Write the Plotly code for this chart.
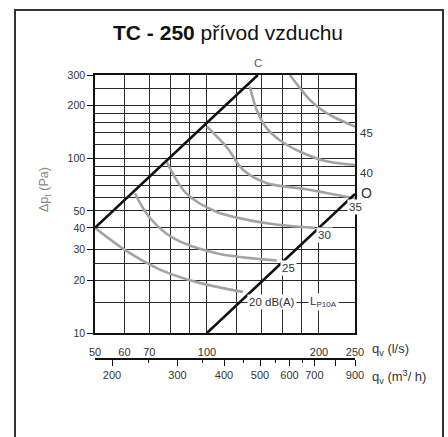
import math
import plotly.graph_objects as go

# ---------------- data ----------------
# axis grid / tick values
q_ls_labeled = [50, 60, 70, 100, 200, 250]
q_ls_minor = [80, 90, 120, 140, 160, 180]
dp_labeled = [10, 20, 30, 40, 50, 100, 200, 300]
dp_minor = [15, 25, 60, 70, 80, 90, 120, 140, 160, 180, 250]
q_m3h_major = [200, 300, 400, 500, 600, 700, 800, 900]
q_m3h_major_text = ["200", "300", "400", "500", "600", "700", "", "900"]
q_m3h_minor = [250, 350, 450, 550, 650]

# characteristic lines
line_C_q = [50, 137]
line_C_dp = [40, 300]
line_O_q = [100, 250]
line_O_dp = [10, 62.5]

# noise level curves (dB(A))
n20_q = [50, 60, 75, 96, 125]
n20_dp = [40, 30, 23, 19.3, 17.2]
n25_q = [64, 70, 81, 106, 154]
n25_dp = [63, 46, 35, 28.6, 26]
n30_q = [78, 88, 106, 145, 195]
n30_dp = [95, 63, 49.5, 42.5, 40]
n35_q = [100, 113, 125, 145, 185, 250]
n35_dp = [152, 116, 86, 72, 66.5, 59]
n40_q = [130.5, 136, 144.7, 157, 178, 208, 250]
n40_dp = [257, 189, 149, 127, 109, 96.5, 91.5]
n45_q = [167, 178, 189, 201, 218.5, 250]
n45_dp = [300, 252, 216, 193, 173, 152]

# label texts and anchors (q in l/s, dp in Pa)
label_text = ["C", "45", "40", "O", "35", "30", "25", "20 dB(A)", "L<sub>P10A</sub>"]
label_q = [137, 268, 268, 269, 251.5, 207.6, 166, 149.5, 206.3]
label_dp = [350, 140, 82, 63.4, 52.7, 36.4, 23.5, 15, 15]

FONT = "Liberation Sans, Arial, Helvetica, sans-serif"
GRAY = "#a3a3a3"

Q_RANGE = [50, 250]
DP_RANGE = [10, 300]

fig = go.Figure()

for q, dp in [(n20_q, n20_dp), (n25_q, n25_dp), (n30_q, n30_dp),
              (n35_q, n35_dp), (n40_q, n40_dp), (n45_q, n45_dp)]:
    fig.add_trace(go.Scatter(x=q, y=dp, mode="lines",
                             line=dict(color=GRAY, width=2.6, shape="spline", smoothing=0.9),
                             hoverinfo="skip", showlegend=False, cliponaxis=True))

for q, dp in [(line_C_q, line_C_dp), (line_O_q, line_O_dp)]:
    fig.add_trace(go.Scatter(x=q, y=dp, mode="lines", line=dict(color="#111111", width=2.6),
                             hoverinfo="skip", showlegend=False))

# secondary axis carrier (m3/h)
fig.add_trace(go.Scatter(x=[q_m3h_major[0], q_m3h_major[-1]], y=[dp_labeled[0], dp_labeled[0]],
                         xaxis="x2", yaxis="y", mode="lines", line=dict(width=0, color="rgba(0,0,0,0)"),
                         hoverinfo="skip", showlegend=False))

W, H = 448, 437
L, R, T, B = 95, 93, 75, 78
pw = W - L - R
ph = H - T - B  # paper height
d0 = (H - B - 333) / ph  # plot bottom

grid_col = "#2a2a2a"


def paper_x(q):
    return (math.log10(q) - math.log10(Q_RANGE[0])) / (math.log10(Q_RANGE[1]) - math.log10(Q_RANGE[0]))


def paper_y(dp):
    return d0 + (1 - d0) * (math.log10(dp) - math.log10(DP_RANGE[0])) / (
        math.log10(DP_RANGE[1]) - math.log10(DP_RANGE[0]))


fig.update_layout(
    width=W, height=H,
    margin=dict(l=L, r=R, t=T, b=B, pad=0),
    paper_bgcolor="white", plot_bgcolor="white",
    font=dict(family=FONT, size=10, color="#333"),
    showlegend=False,
    title=dict(text="<b>TC - 250</b> přívod vzduchu", x=0.509, xref="container", y=1 - 33 / H,
               yref="container", xanchor="center", yanchor="middle",
               font=dict(family=FONT, size=21, color="#111")),
    xaxis=dict(type="log", range=[math.log10(Q_RANGE[0]), math.log10(Q_RANGE[1])], anchor="y",
               tickmode="array", tickvals=q_ls_labeled, ticktext=[str(v) for v in q_ls_labeled],
               ticks="outside", ticklen=8, tickcolor="rgba(0,0,0,0)",
               showgrid=True, gridcolor=grid_col, gridwidth=1.3,
               minor=dict(tickmode="array", tickvals=q_ls_minor, showgrid=True, gridcolor=grid_col,
                          gridwidth=1.3, ticks=""),
               showline=True, mirror=True, linecolor="#111", linewidth=1.6,
               zeroline=False, tickfont=dict(size=11, color="#333")),
    xaxis2=dict(type="log", range=[math.log10(180), math.log10(900)], overlaying="x", anchor="free",
                position=0, side="bottom",
                tickmode="array", tickvals=q_m3h_major, ticktext=q_m3h_major_text,
                ticks="outside", ticklen=6, tickwidth=1.3, tickcolor="#111",
                minor=dict(tickmode="array", tickvals=q_m3h_minor, ticks="outside", ticklen=3,
                           tickwidth=1.3, tickcolor="#111", showgrid=False),
                showgrid=False, showline=True, linecolor="#111", linewidth=1.6, zeroline=False,
                tickfont=dict(size=11, color="#333")),
    yaxis=dict(type="log", range=[math.log10(DP_RANGE[0]), math.log10(DP_RANGE[1])], domain=[d0, 1],
               tickmode="array", tickvals=dp_labeled, ticktext=[str(v) for v in dp_labeled],
               ticks="outside", ticklen=6, tickwidth=1.3, tickcolor="#111",
               showgrid=True, gridcolor=grid_col, gridwidth=1.3,
               minor=dict(tickmode="array", tickvals=dp_minor, showgrid=True, gridcolor=grid_col,
                          gridwidth=1.3, ticks=""),
               showline=True, mirror=True, linecolor="#111", linewidth=1.6,
               zeroline=False, tickfont=dict(size=10.5, color="#333")),
)

# frame around the whole figure
fig.add_shape(type="rect", xref="paper", yref="paper",
              x0=(15 - L) / pw, x1=(443 - L) / pw,
              y0=(H - B - 445) / ph, y1=(H - B - 10) / ph,
              line=dict(color="#333", width=2), fillcolor="rgba(0,0,0,0)", layer="above")

# curve / line labels
for txt, q, dp in zip(label_text, label_q, label_dp):
    white = txt not in ("C", "O", "45", "40")
    fig.add_annotation(x=paper_x(q), y=paper_y(dp), xref="paper", yref="paper", text=txt,
                       showarrow=False, xanchor="center", yanchor="middle",
                       font=dict(family=FONT, size=14 if txt == "O" else 11.5,
                                 color="#555" if txt == "C" else "#333"),
                       bgcolor="white" if white else "rgba(0,0,0,0)", borderpad=1)

# axis titles
fig.add_annotation(xref="paper", yref="paper", x=(45 - L) / pw, y=(H - B - 190) / ph,
                   text="Δp<sub>t</sub> (Pa)", textangle=-90, showarrow=False,
                   font=dict(family=FONT, size=12.5, color="#888"), xanchor="center", yanchor="middle")
fig.add_annotation(xref="paper", yref="paper", x=(370 - L) / pw, y=(H - B - 349) / ph,
                   text="q<sub>v</sub> (l/s)", showarrow=False,
                   font=dict(family=FONT, size=13, color="#333"), xanchor="left", yanchor="middle")
fig.add_annotation(xref="paper", yref="paper", x=(370 - L) / pw, y=(H - B - 377) / ph,
                   text="q<sub>v</sub> (m<sup>3</sup>/ h)", showarrow=False,
                   font=dict(family=FONT, size=13, color="#333"), xanchor="left", yanchor="middle")

fig.write_html("out.html", config={"displayModeBar": False},
               post_script="document.body.style.margin='0';document.body.style.overflow='hidden';")
